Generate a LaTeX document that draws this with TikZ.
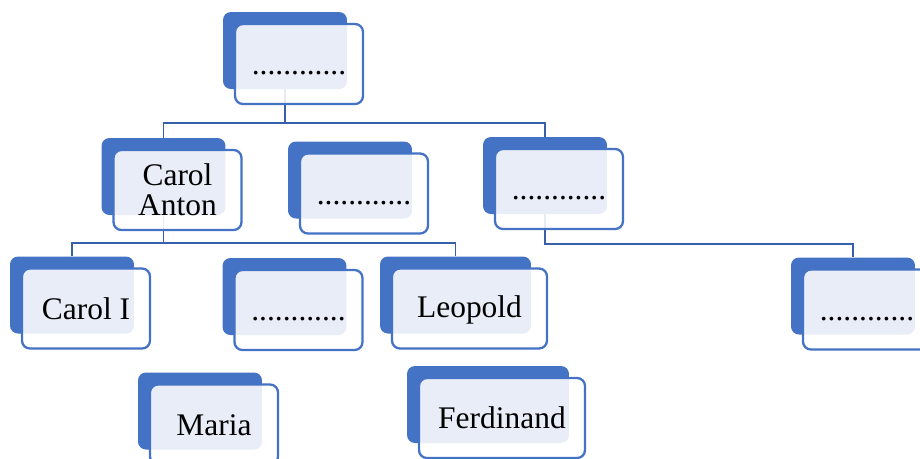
\documentclass[tikz,border=0pt]{standalone}
\usepackage{fontspec}
\setmainfont{Liberation Serif}
\usetikzlibrary{calc}
\definecolor{cartaoazul}{RGB}{68, 114, 196}
\definecolor{linhaazul}{RGB}{56, 96, 170}
\newcommand{\apoio}{\rule[-1.6pt]{0pt}{15.6pt}}

\begin{document}
\begin{tikzpicture}[
            x=0.02cm, y=-0.02cm,
            fundo/.style={fill=cartaoazul, rounded corners=4.5pt, inner sep=0pt, minimum width=2.48cm, minimum height=1.54cm},
            frente/.style={draw=cartaoazul, line width=1.3pt, fill=white, fill opacity=0.88, text opacity=1, rounded corners=4.5pt, inner sep=0pt, minimum width=2.56cm, minimum height=1.6cm, align=center, font=\fontsize{17.9}{17}\selectfont, shift={(14,13.5)}},
            ligacao/.style={draw=linhaazul, line width=1.1pt}
        ]
            \useasboundingbox (0,0) rectangle (920,458);

            % Back cards
            \node[fundo] (topob) at (285,50.5) {};
            \node[fundo] (carolantonb) at (163.5,176.5) {};
            \node[fundo] (meiob) at (350,180) {};
            \node[fundo] (direitab) at (545,175.5) {};
            \node[fundo] (carolib) at (72,295) {};
            \node[fundo] (filhob) at (284.5,296.5) {};
            \node[fundo, minimum width=3.02cm] (leopoldb) at (455.5,295) {};
            \node[fundo] (netob) at (853,296) {};
            \node[fundo] (mariab) at (200,411) {};
            \node[fundo, minimum width=3.24cm] (ferdinandb) at (488,404.5) {};

            % Connectors
            \coordinate (trilho1) at ($(topob.south)+(0,34)$);
            \coordinate (trilho2) at ($(carolantonb.south)+(0,28)$);
            \coordinate (trilho3) at ($(direitab.south)+(0,30)$);
            \draw[ligacao] (topob.south) -- (trilho1);
            \draw[ligacao] (carolantonb.north) |- (trilho1) -| (direitab.north);
            \draw[ligacao] (carolantonb.south) -- (trilho2);
            \draw[ligacao] (carolib.north) |- (trilho2) -| (leopoldb.north);
            \draw[ligacao] (direitab.south) -- (trilho3) -| (netob.north);

            % Front cards
            \node[frente] (topo) at (topob.center) {\apoio............};
            \node[frente] (carolanton) at (carolantonb.center) {\apoio Carol\\\apoio Anton};
            \node[frente] (meio) at (meiob.center) {\apoio............};
            \node[frente] (direita) at (direitab.center) {\apoio............};
            \node[frente] (caroli) at (carolib.center) {\apoio Carol I};
            \node[frente] (filho) at (filhob.center) {\apoio............};
            \node[frente, minimum width=3.1cm] (leopold) at (leopoldb.center) {\apoio Leopold};
            \node[frente] (neto) at (netob.center) {\apoio............};
            \node[frente] (maria) at (mariab.center) {\apoio Maria};
            \node[frente, minimum width=3.32cm] (ferdinand) at (ferdinandb.center) {\apoio Ferdinand};
        \end{tikzpicture}
\end{document}
